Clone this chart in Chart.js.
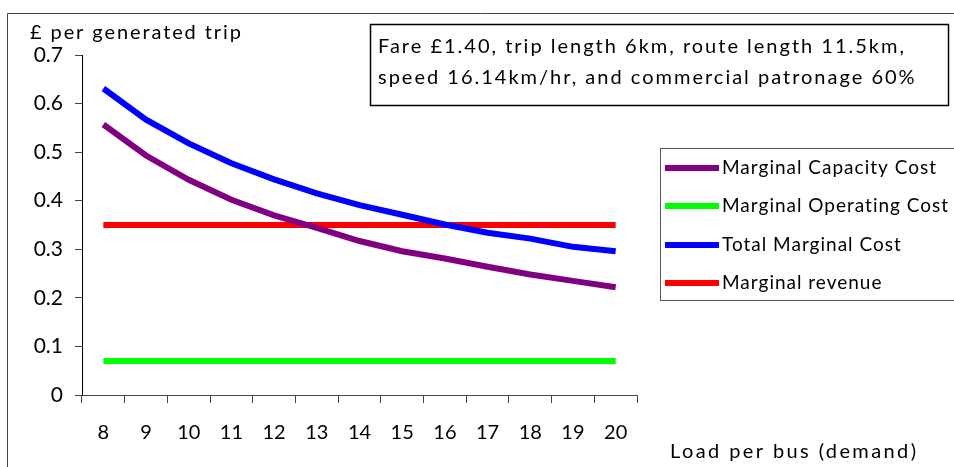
<!DOCTYPE html>
<html>
<head>
<meta charset="utf-8">
<script src="https://cdn.jsdelivr.net/npm/chart.js@4.4.1/dist/chart.umd.min.js"></script>
<style>
    html, body { margin: 0; padding: 0; background: #fff; }
    #wrap { width: 954px; height: 467px; position: relative; }
</style>
</head>
<body>
<div id="wrap"><canvas id="grafico" width="954" height="467"></canvas></div>
<script>
const loads = ["8", "9", "10", "11", "12", "13", "14", "15", "16", "17", "18", "19", "20"];
const capacityCost = [0.557, 0.493, 0.443, 0.402, 0.370, 0.344, 0.317, 0.296, 0.281, 0.264, 0.248, 0.235, 0.222];
const operatingCost = [0.07, 0.07, 0.07, 0.07, 0.07, 0.07, 0.07, 0.07, 0.07, 0.07, 0.07, 0.07, 0.07];
const totalCost = [0.631, 0.567, 0.518, 0.477, 0.444, 0.415, 0.391, 0.371, 0.351, 0.334, 0.322, 0.305, 0.296];
const revenue = [0.35, 0.35, 0.35, 0.35, 0.35, 0.35, 0.35, 0.35, 0.35, 0.35, 0.35, 0.35, 0.35];
const yTicks = [0, 0.1, 0.2, 0.3, 0.4, 0.5, 0.6, 0.7];

const yTitle = "£ per generated trip";
const xTitle = "Load per bus (demand)";
const noteLines = [
    "Fare £1.40, trip length 6km, route length 11.5km,",
    "speed 16.14km/hr, and commercial patronage 60%"
];

const FONT = "Lato, 'Open Sans', sans-serif";

function texto(ctx, str, x, y, size, spacing) {
    ctx.font = `${size}px ${FONT}`;
    ctx.letterSpacing = `${spacing}px`;
    ctx.fillText(str, x, y);
    ctx.letterSpacing = "0px";
}

// desenha moldura, títulos, caixa de nota e legenda
const extras = {
    id: "extras",
    afterDraw(chart) {
        const ctx = chart.ctx;
        ctx.save();

        // moldura externa
        ctx.strokeStyle = "#444";
        ctx.lineWidth = 1;
        ctx.beginPath();
        ctx.moveTo(7.5, 467);
        ctx.lineTo(7.5, 13.5);
        ctx.lineTo(954, 13.5);
        ctx.stroke();

        ctx.fillStyle = "#000";
        ctx.textBaseline = "middle";
        ctx.textAlign = "left";
        texto(ctx, yTitle, 30, 33, 20, 1.9);
        texto(ctx, xTitle, 670, 452, 20, 2.4);

        // caixa de nota
        ctx.strokeStyle = "#000";
        ctx.lineWidth = 1.5;
        ctx.strokeRect(370.5, 24.5, 578, 81);
        texto(ctx, noteLines[0], 378, 47, 20, 2);
        texto(ctx, noteLines[1], 378, 78, 20, 2);

        // legenda
        ctx.strokeStyle = "#555";
        ctx.lineWidth = 1;
        ctx.strokeRect(660.5, 148.5, 320, 152);
        const ys = [168, 206, 245, 283];
        chart.data.datasets.forEach((ds, i) => {
            ctx.fillStyle = ds.borderColor;
            ctx.fillRect(665, ys[i] - 3, 54, 6);
            ctx.fillStyle = "#000";
            texto(ctx, ds.label, 722, ys[i], 19, 1);
        });

        ctx.restore();
    }
};

const ctx = document.getElementById("grafico").getContext("2d");
new Chart(ctx, {
    type: "line",
    data: {
        labels: loads,
        datasets: [
            { label: "Marginal Capacity Cost", data: capacityCost, borderColor: "#800080" },
            { label: "Marginal Operating Cost", data: operatingCost, borderColor: "#00ff00" },
            { label: "Total Marginal Cost", data: totalCost, borderColor: "#0000ff" },
            { label: "Marginal revenue", data: revenue, borderColor: "#ff0000" }
        ].map(d => ({ ...d, borderWidth: 6, pointRadius: 0, tension: 0, fill: false }))
    },
    options: {
        responsive: false,
        animation: false,
        layout: { padding: { left: 0, top: 55, right: 317, bottom: 0 } },
        plugins: { legend: { display: false }, tooltip: { enabled: false } },
        scales: {
            x: {
                type: "category",
                offset: true,
                grid: { offset: true, drawOnChartArea: false, drawTicks: true, tickLength: 8, color: "#444" },
                border: { color: "#444", width: 1 },
                ticks: { color: "#000", font: { family: FONT, size: 20 }, padding: 18, maxRotation: 0 },
                afterFit: s => { s.height = 72; }
            },
            y: {
                min: 0,
                max: 0.7,
                afterBuildTicks: s => { s.ticks = yTicks.map(v => ({ value: v })); },
                grid: { drawOnChartArea: false, drawTicks: true, tickLength: 7, color: "#444" },
                border: { color: "#000", width: 1 },
                ticks: { color: "#000", font: { family: FONT, size: 21 }, padding: 12, callback: v => String(v) },
                afterFit: s => { s.width = 82; }
            }
        }
    },
    plugins: [extras]
});
</script>
</body>
</html>
